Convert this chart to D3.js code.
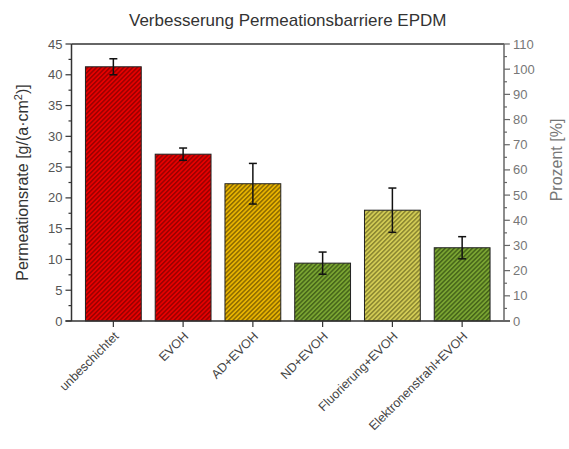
<!DOCTYPE html>
<html><head><meta charset="utf-8">
<script src="https://cdn.jsdelivr.net/npm/d3@7"></script>
<style>body{margin:0;background:#fff}svg{display:block}text{font-family:"Liberation Sans",Arial,sans-serif}</style>
</head><body><div id="c"></div>
<script>
const categories = ["unbeschichtet","EVOH","AD+EVOH","ND+EVOH","Fluorierung+EVOH","Elektronenstrahl+EVOH"];
const values = [41.3, 27.1, 22.3, 9.4, 18.0, 11.9];
const errors = [1.3, 1.0, 3.3, 1.8, 3.6, 1.8];
const fills = ["#e60000","#e60000","#e8b400","#7aa532","#d2cc55","#7aa532"];
const stripes = ["#9a0000","#9a0000","#8c6a00","#46651a","#8a8630","#46651a"];
const leftTicks = [0,5,10,15,20,25,30,35,40,45];
const rightTicks = [0,10,20,30,40,50,60,70,80,90,100,110];

const W=569,H=449, L=71.5, R=504, T=44, B=321;
const svg=d3.select("#c").append("svg").attr("width",W).attr("height",H);
const defs=svg.append("defs");
fills.forEach((f,i)=>{
  const p=defs.append("pattern").attr("id","h"+i).attr("patternUnits","userSpaceOnUse")
    .attr("width",3.2).attr("height",3.2).attr("patternTransform","rotate(45)");
  p.append("rect").attr("width",3.2).attr("height",3.2).attr("fill",f);
  p.append("rect").attr("width",1.5).attr("height",3.2).attr("fill",stripes[i]);
});
const x=d3.scaleBand().domain(categories).range([L,R]).padding(0.2);
const y=d3.scaleLinear().domain([0,45]).range([B,T]);
const y2=d3.scaleLinear().domain([0,110]).range([B,T]);

svg.selectAll("rect.bar").data(values).join("rect").attr("class","bar")
  .attr("x",(d,i)=>x(categories[i])).attr("width",x.bandwidth())
  .attr("y",d=>y(d)).attr("height",d=>B-y(d))
  .attr("fill",(d,i)=>`url(#h${i})`).attr("stroke","#222").attr("stroke-width",1);

const eb=svg.append("g").attr("stroke","#111").attr("stroke-width",1.5);
values.forEach((v,i)=>{
  const cx=x(categories[i])+x.bandwidth()/2;
  eb.append("line").attr("x1",cx).attr("x2",cx).attr("y1",y(v-errors[i])).attr("y2",y(v+errors[i]));
  [v-errors[i],v+errors[i]].forEach(e=>eb.append("line").attr("x1",cx-4).attr("x2",cx+4).attr("y1",y(e)).attr("y2",y(e)));
});

svg.append("line").attr("x1",L).attr("x2",R).attr("y1",T).attr("y2",T).attr("stroke","#333").attr("stroke-width",1.5);
svg.append("line").attr("x1",L-6).attr("x2",R+6).attr("y1",B).attr("y2",B).attr("stroke","#333").attr("stroke-width",1.5);
svg.append("line").attr("x1",L).attr("x2",L).attr("y1",T).attr("y2",B).attr("stroke","#333").attr("stroke-width",1.5);
svg.append("line").attr("x1",R).attr("x2",R).attr("y1",T).attr("y2",B).attr("stroke","#666").attr("stroke-width",1.5);

const lt=svg.append("g");
d3.range(0,45.1,2.5).forEach(v=>{
  const maj=v%5===0;
  lt.append("line").attr("x1",L).attr("x2",L-(maj?6:3)).attr("y1",y(v)).attr("y2",y(v)).attr("stroke","#333").attr("stroke-width",1.2);
});
lt.selectAll("text").data(leftTicks).join("text").attr("x",L-9).attr("y",d=>y(d)).attr("dy","0.35em")
  .attr("text-anchor","end").attr("font-size",13).attr("fill","#555").text(d=>d);
const rt=svg.append("g");
d3.range(0,110.1,5).forEach(v=>{
  const maj=v%10===0;
  rt.append("line").attr("x1",R).attr("x2",R+(maj?6:3)).attr("y1",y2(v)).attr("y2",y2(v)).attr("stroke","#666").attr("stroke-width",1.2);
});
rt.selectAll("text").data(rightTicks).join("text").attr("x",R+9).attr("y",d=>y2(d)).attr("dy","0.35em")
  .attr("text-anchor","start").attr("font-size",13).attr("fill","#777").text(d=>d);
const bt=svg.append("g");
categories.forEach(c=>{
  const cx=x(c)+x.bandwidth()/2;
  bt.append("line").attr("x1",cx).attr("x2",cx).attr("y1",B).attr("y2",B+6).attr("stroke","#333").attr("stroke-width",1.2);
  bt.append("text").attr("transform",`translate(${cx+6},${B+16}) rotate(-45)`).attr("text-anchor","end")
    .attr("font-size",12.5).attr("fill","#444").text(c);
});
svg.append("text").attr("x",(L+R)/2).attr("y",26).attr("text-anchor","middle").attr("font-size",17).attr("fill","#333")
  .text("Verbesserung Permeationsbarriere EPDM");
const yl=svg.append("text").attr("transform",`translate(28,${(T+B)/2}) rotate(-90)`).attr("text-anchor","middle")
  .attr("font-size",16).attr("fill","#333");
yl.append("tspan").text("Permeationsrate [g/(a·cm");
yl.append("tspan").attr("dy",-6).attr("font-size",11).text("2");
yl.append("tspan").attr("dy",6).text(")]");
svg.append("text").attr("transform",`translate(562,160) rotate(-90)`).attr("text-anchor","middle")
  .attr("font-size",16).attr("fill","#777").text("Prozent [%]");
</script></body></html>
